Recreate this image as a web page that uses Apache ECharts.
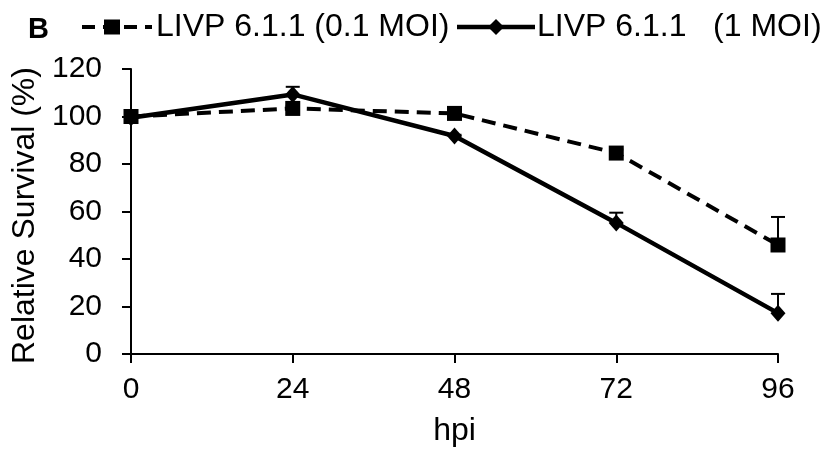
<!DOCTYPE html>
<html><head><meta charset="utf-8">
<script src="https://cdn.jsdelivr.net/npm/echarts@6/dist/echarts.min.js"></script>
<style>html,body{margin:0;padding:0;background:#fff}#c{width:839px;height:453px}</style>
</head><body><div id="c"></div>
<script>
const hpi = [0, 24, 48, 72, 96];
const xTicks = [0, 24, 48, 72, 96];
const seriesNames = ['LIVP 6.1.1 (0.1 MOI)', 'LIVP 6.1.1   (1 MOI)'];
const moi01 = [100, 103.4, 101.3, 84.6, 45.9];
const moi01Err = [0.5, 1, 1, 1.5, 11.8];
const moi1 = [99.5, 109.3, 91.8, 55.2, 17.2];
const moi1Err = [1, 3.2, 0.5, 4.3, 8.1];

const FONT = 'Liberation Sans, Arial, sans-serif';
const chart = echarts.init(document.getElementById('c'), null, {renderer: 'canvas'});

function errSeries(vals, errs) {
  return {
    type: 'custom',
    z: 1,
    silent: true,
    data: hpi.map((x, i) => [x, vals[i], vals[i] + errs[i]]),
    renderItem: function (params, api) {
      const p0 = api.coord([api.value(0), api.value(1)]);
      const p1 = api.coord([api.value(0), api.value(2)]);
      const hw = 7;
      const st = {stroke: '#000', lineWidth: 2};
      return {type: 'group', children: [
        {type: 'line', shape: {x1: p0[0], y1: p0[1], x2: p1[0], y2: p1[1]}, style: st},
        {type: 'line', shape: {x1: p1[0] - hw, y1: p1[1], x2: p1[0] + hw, y2: p1[1]}, style: st}
      ]};
    }
  };
}

const LY = 27;
const legendGraphics = [
  {type: 'text', left: 28, top: 15, style: {text: 'B', font: 'bold 29px ' + FONT, fill: '#000'}},
  // item 1: dashed line with square
  {type: 'line', shape: {x1: 82, y1: LY, x2: 152, y2: LY}, style: {stroke: '#000', lineWidth: 4, lineDash: [13, 8]}},
  {type: 'rect', shape: {x: 104, y: LY - 7.5, width: 16, height: 15}, style: {fill: '#000'}},
  {type: 'text', x: 156, y: LY, style: {text: seriesNames[0], font: '32px ' + FONT, fill: '#000', verticalAlign: 'middle', textAlign: 'left'}},
  // item 2: solid line with diamond
  {type: 'line', shape: {x1: 457, y1: LY, x2: 535, y2: LY}, style: {stroke: '#000', lineWidth: 4.5}},
  {type: 'polygon', shape: {points: [[496, LY - 8], [504, LY], [496, LY + 8], [488, LY]]}, style: {fill: '#000'}},
  {type: 'text', x: 537, y: LY, style: {text: seriesNames[1], font: '32px ' + FONT, fill: '#000', verticalAlign: 'middle', textAlign: 'left'}}
];

chart.setOption({
  animation: false,
  backgroundColor: '#fff',
  grid: {left: 131, right: 61, top: 69, bottom: 99},
  graphic: legendGraphics,
  xAxis: {
    type: 'value', min: 0, max: 96, interval: 24,
    name: 'hpi', nameLocation: 'middle', nameGap: 61,
    nameTextStyle: {fontFamily: FONT, fontSize: 32, color: '#000'},
    axisLine: {lineStyle: {color: '#000', width: 2}},
    axisTick: {show: true, length: 9, lineStyle: {color: '#000', width: 2}},
    axisLabel: {fontFamily: FONT, fontSize: 30, color: '#000', margin: 21,
      formatter: v => xTicks.includes(v) ? String(v) : ''},
    splitLine: {show: false}
  },
  yAxis: {
    type: 'value', min: 0, max: 120, interval: 20,
    name: 'Relative Survival (%)', nameLocation: 'middle', nameGap: 85, nameRotate: 90,
    nameTextStyle: {fontFamily: FONT, fontSize: 32, color: '#000', padding: [0, 8, 0, 0]},
    axisLine: {show: true, lineStyle: {color: '#000', width: 2}},
    axisTick: {show: true, length: 9, lineStyle: {color: '#000', width: 2}},
    axisLabel: {fontFamily: FONT, fontSize: 30, color: '#000', margin: 29},
    splitLine: {show: false}
  },
  series: [
    errSeries(moi01, moi01Err),
    errSeries(moi1, moi1Err),
    {
      name: seriesNames[0], type: 'line', z: 3,
      data: hpi.map((x, i) => [x, moi01[i]]),
      symbol: 'rect', symbolSize: 15,
      itemStyle: {color: '#000'},
      lineStyle: {color: '#000', width: 4, type: [14, 8]}
    },
    {
      name: seriesNames[1], type: 'line', z: 4,
      data: hpi.map((x, i) => [x, moi1[i]]),
      symbol: 'diamond', symbolSize: [15, 17],
      itemStyle: {color: '#000'},
      lineStyle: {color: '#000', width: 4.5}
    }
  ]
});
</script></body></html>
